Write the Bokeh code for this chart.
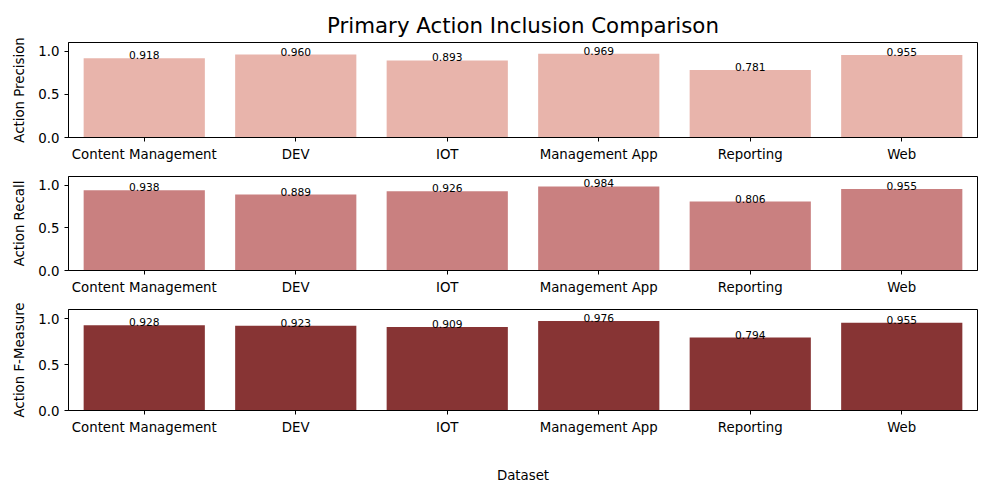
from bokeh.plotting import figure
from bokeh.models import ColumnDataSource, FixedTicker, Title, NumeralTickFormatter
from bokeh.core.properties import value
from bokeh.layouts import column
from bokeh.embed import file_html
from bokeh.resources import INLINE

datasets = ["Content Management", "DEV", "IOT", "Management App", "Reporting", "Web"]
precision = [0.918, 0.960, 0.893, 0.969, 0.781, 0.955]
recall = [0.938, 0.889, 0.926, 0.984, 0.806, 0.955]
fmeasure = [0.928, 0.923, 0.909, 0.976, 0.794, 0.955]

FONT = "DejaVu Sans"

panels = [
    ("Action Precision", precision, "#E8B4AB", 164, 42, 11),
    ("Action Recall", recall, "#C98080", 133, 12, 11),
    ("Action F-Measure", fmeasure, "#873434", 188, 12, 66),
]

figs = []
for i, (label, vals, color, h, top, bottom) in enumerate(panels):
    last = i == len(panels) - 1
    p = figure(x_range=datasets, y_range=(0, 1.1), width=984, height=h,
               output_backend="svg", toolbar_location=None,
               min_border_left=68, min_border_right=7,
               min_border_top=top, min_border_bottom=bottom)
    if i == 0:
        p.add_layout(Title(text="Primary Action Inclusion Comparison", text_font=FONT,
                           text_font_size="16pt", text_font_style="normal",
                           align="center", text_color="black", offset=-20), "above")
    src = ColumnDataSource(dict(x=datasets, top=vals, lbl=[f"{v:.3f}" for v in vals]))
    p.vbar(x="x", top="top", width=0.8, source=src, fill_color=color, line_color=None)
    p.text(x="x", y="top", text="lbl", source=src, text_align="center",
           text_baseline="bottom", text_font=value(FONT), text_font_size="8pt",
           text_color="black", y_offset=1)
    p.xgrid.grid_line_color = None
    p.ygrid.grid_line_color = None
    p.outline_line_color = "black"
    p.x_range.range_padding = 0.0
    p.yaxis.ticker = FixedTicker(ticks=[0, 0.5, 1.0])
    p.yaxis.formatter = NumeralTickFormatter(format="0.0")
    p.yaxis.axis_label = label
    for ax in (p.xaxis, p.yaxis):
        ax.axis_label_text_font = FONT
        ax.axis_label_text_font_style = "normal"
        ax.axis_label_text_font_size = "10pt"
        ax.axis_label_text_color = "black"
        ax.major_label_text_font = FONT
        ax.major_label_text_font_size = "10pt"
        ax.major_label_text_color = "black"
        ax.minor_tick_line_color = None
        ax.major_tick_in = 0
        ax.major_tick_out = 4
    p.yaxis.axis_label_standoff = 8
    if last:
        p.xaxis.axis_label = "Dataset"
        p.xaxis.axis_label_standoff = 30
    else:
        p.xaxis.major_label_overrides = {d: " " for d in datasets}
    figs.append(p)

layout = column(*figs, spacing=0)
open("out.html", "w").write(file_html(layout, INLINE))
